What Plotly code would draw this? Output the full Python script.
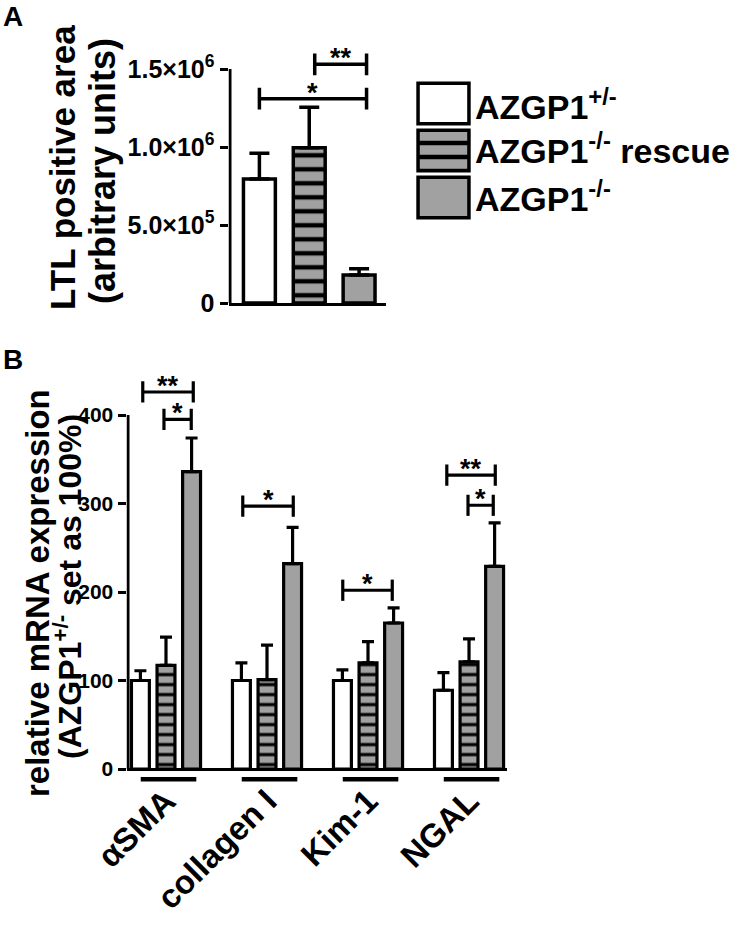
import plotly.graph_objects as go

W, H = 737, 936
FONT = "Liberation Sans, Arial, Helvetica, sans-serif"
WHITE = "#ffffff"
GRAY = "#a1a1a1"

# ---------------- data ----------------
legend_labels = ["AZGP1<sup>+/-</sup>", "AZGP1<sup>-/-</sup> rescue", "AZGP1<sup>-/-</sup>"]
group_colors = [WHITE, GRAY, GRAY]
group_patterns = ["", "-", ""]

# Panel A: LTL positive area
ltl_mean = [7.95e5, 9.95e5, 1.8e5]
ltl_err = [1.65e5, 2.6e5, 0.4e5]
a_tickvals = [0, 5e5, 1e6, 1.5e6]
a_ticktext = ["0", "5.0×10<sup>5</sup>", "1.0×10<sup>6</sup>", "1.5×10<sup>6</sup>"]
# significance brackets: (x start, x end, level, label)
a_sig = [(0.0, 2.15, 1.31e6, "*"), (1.11, 2.15, 1.53e6, "**")]

# Panel B: relative mRNA expression
genes = ["αSMA", "collagen I", "Kim-1", "NGAL"]
het_mean = [100, 100, 100, 89]
het_err = [11, 20, 12, 20]
resc_mean = [117, 101, 120, 121]
resc_err = [32, 39, 24, 26]
ko_mean = [336, 232, 165, 229]
ko_err = [38, 41, 17, 49]
b_tickvals = [0, 100, 200, 300, 400]
b_sig = [(-0.23, 0.27, 426, "**"), (-0.02, 0.25, 395, "*"),
         (0.76, 1.26, 297, "*"), (1.75, 2.24, 202, "*"),
         (2.78, 3.26, 332, "**"), (2.99, 3.24, 298, "*")]

# ---------------- layout constants ----------------
A_XMIN, A_XMAX = -0.59, 2.54          # x extent of panel A axis line
A_YTOP = 1.62e6                         # room above for brackets
B_XMIN, B_XMAX = -0.376, 3.376
B_YMIN, B_YTOP = -16, 440               # room below for underlines, above for brackets
UNDERLINE_Y = -11.5


def px_x(x):
    return x / W


def px_y(y):
    return 1 - y / H


def bracket(sig, cap):
    xs, ys = [], []
    for x1, x2, lev, _ in sig:
        xs += [x1, x1, None, x1, x2, None, x2, x2, None]
        ys += [lev - cap, lev + cap, None, lev, lev, None, lev - cap, lev + cap, None]
    return xs, ys


def marker(color, shape, size, lw):
    return dict(color=color, line=dict(color="black", width=lw),
                pattern=dict(shape=shape, fillmode="overlay", fgcolor="black", fgopacity=1,
                             size=size, solidity=0.32))


fig = go.Figure()

# ---- Panel A bars (one trace per genotype) ----
for i in range(len(ltl_mean)):
    fig.add_trace(go.Bar(
        x=[i], y=[ltl_mean[i]], width=0.64, offset=-0.32,
        marker=marker(group_colors[i], group_patterns[i], 14, 3.5),
        error_y=dict(type="data", symmetric=False, array=[ltl_err[i]], arrayminus=[0],
                     color="black", thickness=3.5, width=10),
        showlegend=False, xaxis="x", yaxis="y"))

xs, ys = bracket(a_sig, 7.0e4)
fig.add_trace(go.Scatter(x=xs, y=ys, mode="lines", line=dict(color="black", width=3.5),
                         showlegend=False, hoverinfo="skip", xaxis="x", yaxis="y"))

# ---- Panel B bars ----
series = [(het_mean, het_err), (resc_mean, resc_err), (ko_mean, ko_err)]
for k, ((m, e), name) in enumerate(zip(series, legend_labels)):
    n = len(m)
    fig.add_trace(go.Bar(
        x=list(range(n)), y=m, name=name,
        marker=marker(group_colors[k], group_patterns[k], 10, 3.2),
        error_y=dict(type="data", symmetric=False, array=e, arrayminus=[0] * n,
                     color="black", thickness=3.2, width=6),
        showlegend=False, xaxis="x2", yaxis="y2"))

xs, ys = bracket(b_sig, 12.0)
fig.add_trace(go.Scatter(x=xs, y=ys, mode="lines", line=dict(color="black", width=3.2),
                         showlegend=False, hoverinfo="skip", xaxis="x2", yaxis="y2"))

# group underlines below axis
ux, uy = [], []
for i in range(len(genes)):
    ux += [i - 0.25, i + 0.30, None]
    uy += [UNDERLINE_Y, UNDERLINE_Y, None]
fig.add_trace(go.Scatter(x=ux, y=uy, mode="lines", line=dict(color="black", width=4.5),
                         showlegend=False, hoverinfo="skip", xaxis="x2", yaxis="y2"))

# ---- custom legend swatches ----
for k in range(len(legend_labels)):
    fig.add_trace(go.Bar(
        y=[k], x=[1], orientation="h", width=0.86, offset=-0.43,
        marker=marker(group_colors[k], group_patterns[k], 14, 3.5),
        showlegend=False, hoverinfo="skip", xaxis="x3", yaxis="y3"))

tick_common = dict(showgrid=False, zeroline=False, ticks="outside", tickcolor="black",
                   tickwidth=3, ticklen=8, automargin=False)

fig.update_layout(
    template="none",
    width=W, height=H, margin=dict(l=0, r=0, t=0, b=0, pad=0, autoexpand=False),
    paper_bgcolor="white", plot_bgcolor="white",
    font=dict(family=FONT, color="black"),
    barmode="group", bargap=0.24, bargroupgap=0.3,
    # panel A
    xaxis=dict(domain=[px_x(228.5), px_x(386)], range=[A_XMIN - 0.03, A_XMAX], anchor="y",
               showgrid=False, zeroline=False, showline=True, linecolor="black", linewidth=3,
               ticks="", showticklabels=False, automargin=False),
    yaxis=dict(domain=[px_y(303), px_y(50.3)], range=[0, A_YTOP], anchor="x",
               tickvals=a_tickvals, ticktext=a_ticktext, showline=False,
               tickfont=dict(size=25, family=FONT, weight="bold"), **tick_common),
    # panel B
    xaxis2=dict(domain=[px_x(126.5), px_x(507)], range=[B_XMIN - 0.015, B_XMAX], anchor="y2",
                tickvals=list(range(len(genes))), ticktext=genes, tickangle=-45,
                tickfont=dict(size=33, family=FONT, weight="bold"),
                ticklabelstandoff=-9, showgrid=False, zeroline=False, showline=False,
                ticks="", automargin=False),
    yaxis2=dict(domain=[px_y(769 + 16 * 0.885), px_y(769 - 440 * 0.885)], range=[B_YMIN, B_YTOP],
                anchor="x2", tickvals=b_tickvals, showline=False,
                tickfont=dict(size=21, family=FONT, weight="bold"),
                **{**tick_common, "zeroline": True}, zerolinecolor="black", zerolinewidth=3),
    # legend swatches
    xaxis3=dict(domain=[px_x(415.5), px_x(471.5)], range=[-0.05, 1.05], anchor="y3",
                visible=False, automargin=False),
    yaxis3=dict(domain=[px_y(221), px_y(80)], range=[2.5, -0.5], anchor="x3",
                visible=False, automargin=False),
)

# y-axis lines drawn only over the labelled span
fig.add_shape(type="line", xref="x", yref="y", x0=A_XMIN, x1=A_XMIN, y0=0, y1=a_tickvals[-1],
              line=dict(color="black", width=3))
fig.add_shape(type="line", xref="x2", yref="y2", x0=B_XMIN, x1=B_XMIN, y0=0, y1=b_tickvals[-1],
              line=dict(color="black", width=3))

ann = []
# significance stars
for sig, xr, yr in [(a_sig, "x", "y"), (b_sig, "x2", "y2")]:
    for x1, x2, lev, lab in sig:
        ann.append(dict(x=(x1 + x2) / 2, y=lev, xref=xr, yref=yr, text=lab, showarrow=False,
                        xanchor="center", yanchor="bottom", yshift=-11,
                        font=dict(size=27, family=FONT, weight="bold")))

# axis titles (two lines each, rotated)
ann += [
    dict(x=px_x(62), y=px_y(168), text="LTL positive area",
         font=dict(size=35, family=FONT, weight="bold")),
    dict(x=px_x(102), y=px_y(171), text="(arbitrary units)",
         font=dict(size=36, family=FONT, weight="bold")),
    dict(x=px_x(37), y=px_y(593), text="relative mRNA expression",
         font=dict(size=33, family=FONT, weight="bold")),
    dict(x=px_x(68), y=px_y(587), text="(AZGP1<sup>+/-</sup> set as 100%)",
         font=dict(size=32, family=FONT, weight="bold")),
]
for a in ann[-4:]:
    a.update(xref="paper", yref="paper", textangle=-90, showarrow=False,
             xanchor="center", yanchor="middle")
# legend texts
for lab, yc in zip(legend_labels, [104, 148, 196]):
    ann.append(dict(x=px_x(473), y=px_y(yc), xref="paper", yref="paper", text=lab,
                    xanchor="left", yanchor="middle", showarrow=False,
                    font=dict(size=34, family=FONT, weight="bold")))
# panel letters
for lab, yc in [("A", 16), ("B", 359)]:
    ann.append(dict(x=px_x(1), y=px_y(yc), xref="paper", yref="paper", text=lab,
                    xanchor="left", yanchor="middle", showarrow=False,
                    font=dict(size=28, family=FONT, weight="bold")))
fig.update_layout(annotations=ann)

# remove the browser's default 8px page margin so the figure sits at the window origin
fig.write_html("out.html", config={"displayModeBar": False},
               post_script="document.body.style.margin='0px';")
